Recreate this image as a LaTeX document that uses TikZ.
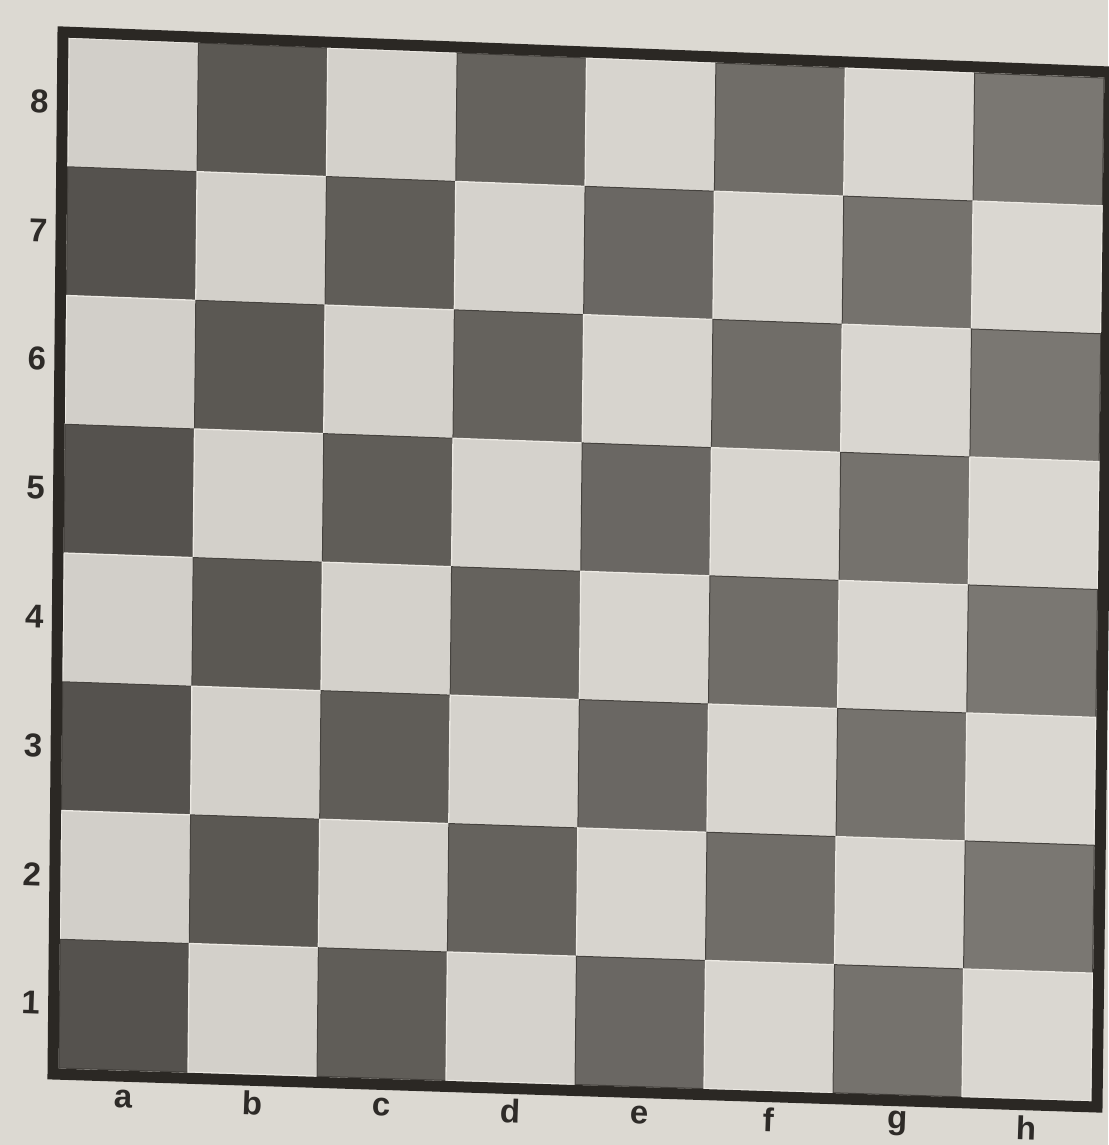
\documentclass[tikz,border=0pt]{standalone}
\usepackage{fontspec}
\setmainfont{Liberation Sans}
\usetikzlibrary{calc}
\definecolor{paper}{HTML}{DCD9D2}
\definecolor{lightL}{HTML}{D2CFC9}
\definecolor{lightR}{HTML}{DAD7D1}
\definecolor{darkL}{HTML}{55524E}
\definecolor{darkR}{HTML}{7A7772}
\definecolor{frameink}{HTML}{2B2824}
\definecolor{ink}{HTML}{2E2B28}
\definecolor{lightedge}{HTML}{ECE9E3}
\definecolor{darkedge}{HTML}{45423E}
\begin{document}
\begin{tikzpicture}[x=1pt,y=-1pt,
  lbl/.style={font=\fontsize{33}{33}\selectfont\bfseries, text=ink, inner sep=0pt, rotate=-2},
  lightsq/.style={draw=lightedge, line width=1.3pt},
  darksq/.style={draw=darkedge, line width=1pt},
  boardframe/.style={draw=frameink, line width=11pt, line join=miter}]
\useasboundingbox (0,0) rectangle (1108,1145);
\fill[paper] (0,0) rectangle (1108,1145);
% inner corners of the playing area
\coordinate (TL) at (69,38);
\coordinate (TR) at (1104,78);
\coordinate (BR) at (1091,1101);
\coordinate (BL) at (59,1068);
% grid points
\foreach \i in {0,...,8}{
  \foreach \j in {0,...,8}{
    \pgfmathsetmacro\uu{\i/8}
    \pgfmathsetmacro\vv{\j/8}
    \coordinate (g-\i-\j) at ($ ($(TL)!\uu!(TR)$)!\vv!($(BL)!\uu!(BR)$) $);
  }
}
% squares
\foreach \i in {0,...,7}{
  \foreach \j in {0,...,7}{
    \pgfmathtruncatemacro\ii{\i+1}
    \pgfmathtruncatemacro\jj{\j+1}
    \pgfmathtruncatemacro\sq{mod(\i+\j,2)}
    \pgfmathtruncatemacro\pc{100-\i*100/7}
    \ifnum\sq=0
      \filldraw[lightsq, fill={lightL!\pc!lightR}] (g-\i-\j) -- (g-\ii-\j) -- (g-\ii-\jj) -- (g-\i-\jj) -- cycle;
    \else
      \filldraw[darksq, fill={darkL!\pc!darkR}] (g-\i-\j) -- (g-\ii-\j) -- (g-\ii-\jj) -- (g-\i-\jj) -- cycle;
    \fi
  }
}
% frame
\coordinate (F1) at (63,32);
\coordinate (F2) at (1110,72);
\coordinate (F3) at (1097,1107);
\coordinate (F4) at (53,1074);
\draw[boardframe] (F1) -- (F2) -- (F3) -- (F4) -- cycle;
% rank labels
\foreach \r in {1,...,8}{
  \pgfmathsetmacro\vv{(8-\r+0.5)/8}
  \node[lbl] (rank-\r) at ($ ($(TL)!-0.028!(TR)$)!\vv!($(BL)!-0.028!(BR)$) $) {\r};
}
% file labels
\foreach \f [count=\k from 0] in {a,b,c,d,e,f,g,h}{
  \pgfmathsetmacro\uu{(\k+0.5)/8}
  \node[lbl] (file-\f) at ($ ($(TL)!\uu!(TR)$)!1.028!($(BL)!\uu!(BR)$) $) {\f};
}
\end{tikzpicture}
\end{document}
